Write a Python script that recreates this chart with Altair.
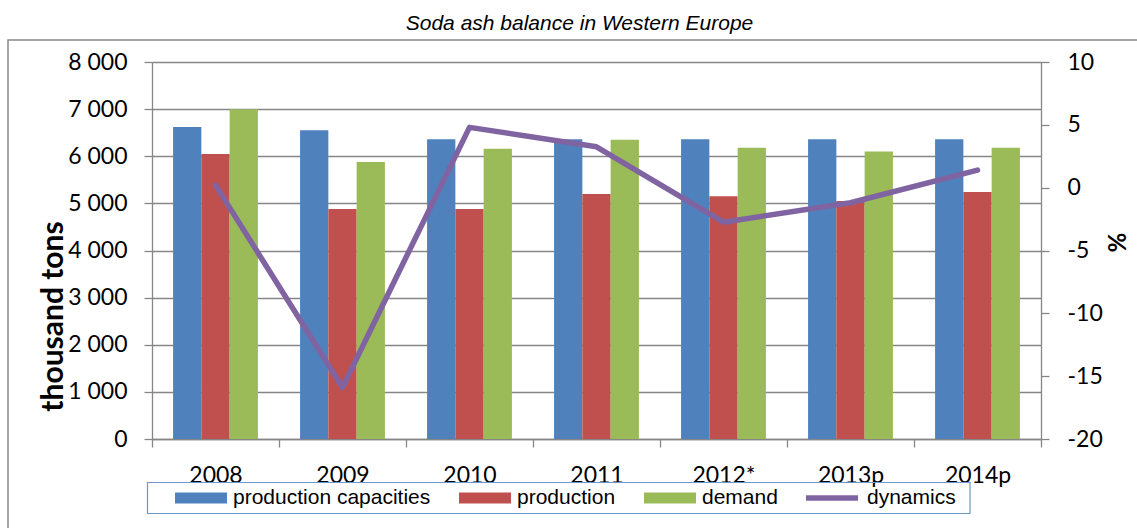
import altair as alt
import pandas as pd

# Soda ash balance, Western Europe (thousand tons; dynamics in %)
years = ["2008", "2009", "2010", "2011", "2012*", "2013p", "2014p"]
capacities = [6620, 6550, 6360, 6360, 6360, 6360, 6360]
production = [6050, 4880, 4880, 5200, 5150, 5050, 5240]
demand = [7000, 5880, 6160, 6350, 6180, 6100, 6180]
dynamics = [0.2, -15.9, 4.8, 3.25, -2.75, -1.2, 1.4]

bar_names = ["production capacities", "production", "demand"]
bar_colors = ["#4F81BD", "#C0504D", "#9BBB59"]
line_name = "dynamics"
line_color = "#8064A2"

bars_df = pd.DataFrame(
    [
        {"year": y, "series": name, "value": v}
        for name, vals in zip(bar_names, [capacities, production, demand])
        for y, v in zip(years, vals)
    ]
)
line_df = pd.DataFrame({"year": years, "dyn": dynamics, "series": line_name})

GRAY = "#868686"
NUM_FONT = "Lato"
TXT_FONT = "Liberation Sans"

legend_common = dict(
    orient="none",
    direction="horizontal",
    title=None,
    labelFont=TXT_FONT,
    labelFontSize=21,
    labelColor="black",
    labelLimit=400,
    labelOffset=6,
    columnPadding=28,
    padding=0,
    symbolSize=2704,
)

x_enc = alt.X(
    "year:N",
    sort=years,
    scale=alt.Scale(domain=years, paddingInner=0, paddingOuter=0),
    axis=alt.Axis(
        title=None,
        labelAngle=0,
        tickBand="extent",
        labelFont=NUM_FONT,
        labelFontSize=23,
        labelColor="black",
        labelPadding=17,
        labelBaseline="top",
        tickSize=8,
        tickColor=GRAY,
        tickWidth=1.3,
        domainColor=GRAY,
        domainWidth=1.3,
    ),
)

# outer chart frame
frame = (
    alt.Chart(pd.DataFrame({"k": [0]}))
    .mark_rect(fill="transparent", stroke="#898989", strokeWidth=1.5)
    .encode(x=alt.value(-144), x2=alt.value(1000), y=alt.value(-22), y2=alt.value(480))
)

bars = (
    alt.Chart(bars_df)
    .mark_bar()
    .encode(
        x=x_enc,
        xOffset=alt.XOffset(
            "series:N",
            sort=bar_names,
            scale=alt.Scale(domain=bar_names, paddingInner=0, paddingOuter=0.745),
        ),
        y=alt.Y(
            "value:Q",
            scale=alt.Scale(domain=[0, 8000], nice=False),
            axis=alt.Axis(
                values=list(range(0, 8001, 1000)),
                title="thousand tons",
                titleFont=NUM_FONT,
                titleFontSize=30,
                titleFontWeight="bold",
                titleColor="black",
                titleAngle=270,
                titleAlign="center",
                titleBaseline="alphabetic",
                titleX=-90,
                titleY=254,
                labelExpr="replace(format(datum.value, ','), ',', ' ')",
                labelFont=NUM_FONT,
                labelFontSize=23,
                labelColor="black",
                labelPadding=17,
                tickSize=8,
                tickColor=GRAY,
                tickWidth=1.3,
                domainColor=GRAY,
                domainWidth=1.3,
                grid=True,
                gridColor=GRAY,
                gridWidth=1.3,
            ),
        ),
        fill=alt.Fill(
            "series:N",
            sort=bar_names,
            scale=alt.Scale(domain=bar_names, range=bar_colors),
            legend=alt.Legend(
                legendX=23,
                legendY=410,
                symbolType="M-1,-0.21H1V0.21H-1Z",
                symbolStrokeWidth=0,
                **legend_common,
            ),
        ),
    )
)

line = (
    alt.Chart(line_df)
    .mark_line(strokeWidth=5.5, strokeCap="round", strokeJoin="round")
    .encode(
        x=x_enc,
        y=alt.Y(
            "dyn:Q",
            scale=alt.Scale(domain=[-20, 10], nice=False),
            axis=alt.Axis(
                orient="right",
                values=list(range(-20, 11, 5)),
                title="%",
                titleFont=NUM_FONT,
                titleFontSize=24,
                titleFontWeight="bold",
                titleColor="black",
                titleAngle=90,
                titleAlign="center",
                titleBaseline="alphabetic",
                titleX=66,
                titleY=180,
                labelExpr="datum.value + ''",
                labelFont=NUM_FONT,
                labelFontSize=23,
                labelColor="black",
                labelPadding=18,
                tickSize=8,
                tickColor=GRAY,
                tickWidth=1.3,
                domainColor=GRAY,
                domainWidth=1.3,
                grid=False,
            ),
        ),
        stroke=alt.Stroke(
            "series:N",
            scale=alt.Scale(domain=[line_name], range=[line_color]),
            legend=alt.Legend(
                legendX=651,
                legendY=407,
                symbolType="M-1,0H1",
                symbolStrokeWidth=5.5,
                **legend_common,
            ),
        ),
    )
)

# box around the legend
legend_box = (
    alt.Chart(pd.DataFrame({"k": [0]}))
    .mark_rect(fill="transparent", stroke="#6F97CF", strokeWidth=1.2)
    .encode(x=alt.value(-4.5), x2=alt.value(818), y=alt.value(420.5), y2=alt.value(451.5))
)

chart = (
    alt.layer(frame, bars, line, legend_box)
    .resolve_scale(y="independent")
    .properties(
        width=889,
        height=377,
        autosize=alt.AutoSizeParams(type="none"),
        padding={"left": 152, "top": 62, "right": 96, "bottom": 89},
        title=alt.TitleParams(
            text="Soda ash balance in Western Europe",
            font=TXT_FONT,
            fontSize=21,
            fontStyle="italic",
            fontWeight="normal",
            color="black",
            anchor="middle",
            baseline="alphabetic",
            dx=-17,
            dy=31,
            offset=19,
        ),
    )
    .configure_view(strokeWidth=0)
    .configure(background="white")
)

chart.save("out.html", embed_options={"renderer": "svg", "actions": False})
